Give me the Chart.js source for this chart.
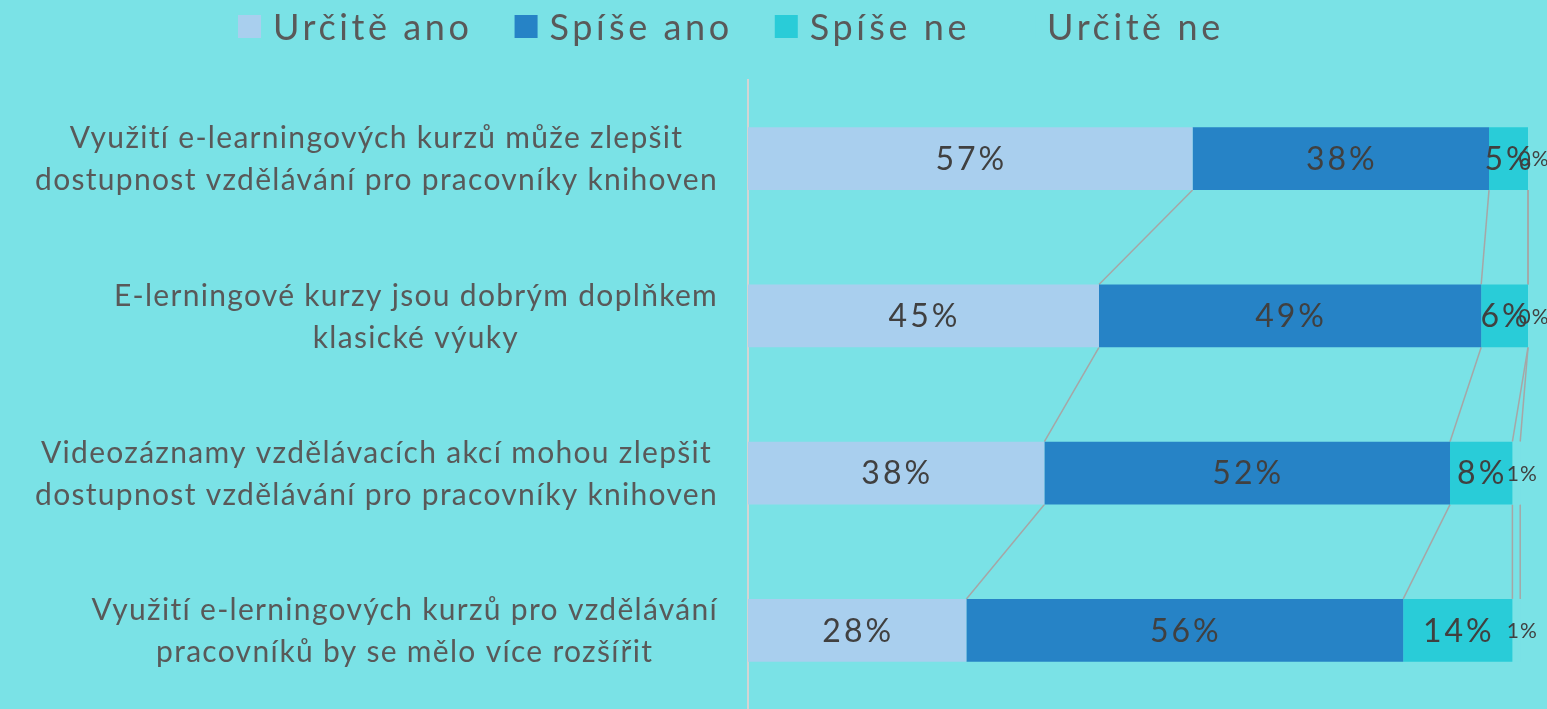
<!DOCTYPE html>
<html>
<head>
<meta charset="utf-8">
<script src="https://cdn.jsdelivr.net/npm/chart.js@4/dist/chart.umd.min.js"></script>
<style>
  html, body { margin: 0; padding: 0; background: #7ae2e6; }
  #wrap { width: 1547px; height: 709px; position: relative; }
</style>
</head>
<body>
<div id="wrap"><canvas id="surveyChart"></canvas></div>
<script>
const categories = [
  ['Využití e-learningových kurzů může zlepšit', 'dostupnost vzdělávání pro pracovníky knihoven'],
  ['E-lerningové kurzy jsou dobrým doplňkem', 'klasické výuky'],
  ['Videozáznamy vzdělávacích akcí mohou zlepšit', 'dostupnost vzdělávání pro pracovníky knihoven'],
  ['Využití e-lerningových kurzů pro vzdělávání', 'pracovníků by se mělo více rozšířit']
];
const seriesNames = ['Určitě ano', 'Spíše ano', 'Spíše ne', 'Určitě ne'];
const urciteAno = [57, 45, 38, 28];
const spiseAno  = [38, 49, 52, 56];
const spiseNe   = [5, 6, 8, 14];
const urciteNe  = [0, 0, 1, 1];

const bg = '#7ae2e6';
const textColor = '#595959';
const labelColor = '#404040';
const colors = ['#a9cfee', '#2683c6', '#29ccd8', bg];
const font = "Lato, 'Noto Sans', sans-serif";

// legenda nahore - kreslena rucne kvuli sirsimu pismu
const topLegend = {
  id: 'topLegend',
  afterDraw(chart) {
    const ctx = chart.ctx;
    ctx.save();
    ctx.font = '36px ' + font;
    ctx.letterSpacing = '3.6px';
    ctx.textBaseline = 'middle';
    ctx.textAlign = 'left';
    let x = 238;
    seriesNames.forEach((name, i) => {
      ctx.fillStyle = colors[i];
      ctx.fillRect(x, 15, 23, 23);
      ctx.fillStyle = textColor;
      ctx.fillText(name, x + 35, 28);
      x += 35 + ctx.measureText(name).width + 42;
    });
    ctx.restore();
  }
};

// popisky kategorii, radky zarovnane na stred bloku
const categoryLabels = {
  id: 'categoryLabels',
  afterDraw(chart) {
    const ctx = chart.ctx;
    const yScale = chart.scales.y;
    ctx.save();
    ctx.font = '30px ' + font;
    ctx.letterSpacing = '1.3px';
    ctx.fillStyle = textColor;
    ctx.textAlign = 'center';
    ctx.textBaseline = 'middle';
    categories.forEach((lines, i) => {
      const w = Math.max(...lines.map(l => ctx.measureText(l).width));
      const cx = 718 - w / 2;
      const cy = yScale.getPixelForTick(i);
      lines.forEach((l, j) => {
        ctx.fillText(l, cx, cy + 1 + (j - (lines.length - 1) / 2) * 42);
      });
    });
    ctx.restore();
  }
};

// spojnice mezi pruhy (series lines)
const seriesLines = {
  id: 'seriesLines',
  beforeDatasetsDraw(chart) {
    const ctx = chart.ctx;
    ctx.save();
    ctx.strokeStyle = '#a6a6a6';
    ctx.lineWidth = 1.5;
    chart.data.datasets.forEach((ds, di) => {
      const bars = chart.getDatasetMeta(di).data;
      for (let i = 0; i < bars.length - 1; i++) {
        const a = bars[i], b = bars[i + 1];
        ctx.beginPath();
        ctx.moveTo(a.x, a.y + a.height / 2);
        ctx.lineTo(b.x, b.y - b.height / 2);
        ctx.stroke();
      }
    });
    ctx.restore();
  }
};

const barLabels = {
  id: 'barLabels',
  afterDatasetsDraw(chart) {
    const ctx = chart.ctx;
    ctx.save();
    ctx.fillStyle = labelColor;
    ctx.textAlign = 'center';
    ctx.textBaseline = 'middle';
    chart.data.datasets.forEach((ds, di) => {
      const small = di === 3;
      ctx.font = (small ? '21px ' : '32px ') + font;
      ctx.letterSpacing = small ? '1px' : '3px';
      chart.getDatasetMeta(di).data.forEach((bar, i) => {
        const cx = (bar.x + bar.base) / 2;
        ctx.fillText(Math.round(ds.data[i]) + '%', small ? cx + 6 : cx + 1, bar.y + 1);
      });
    });
    ctx.restore();
  }
};

const seriesData = [urciteAno, spiseAno, spiseNe, urciteNe];

new Chart(document.getElementById('surveyChart'), {
  type: 'bar',
  data: {
    labels: categories,
    datasets: seriesNames.map((name, i) => ({
      label: name,
      data: seriesData[i],
      backgroundColor: colors[i],
      borderWidth: 0,
      barPercentage: 0.5,
      categoryPercentage: 0.8
    }))
  },
  options: {
    indexAxis: 'y',
    responsive: true,
    maintainAspectRatio: false,
    animation: false,
    layout: { padding: { left: 0, right: 19, top: 80, bottom: -2 } },
    plugins: {
      legend: { display: false },
      tooltip: { enabled: false }
    },
    scales: {
      x: {
        stacked: true,
        min: 0,
        max: 100,
        display: false
      },
      y: {
        stacked: true,
        grid: { display: false, drawTicks: false },
        border: { display: true, color: '#d4d4d4', width: 2 },
        ticks: { display: false },
        afterFit(scale) { scale.width = 748; }
      }
    }
  },
  plugins: [seriesLines, barLabels, categoryLabels, topLegend]
});
</script>
</body>
</html>
